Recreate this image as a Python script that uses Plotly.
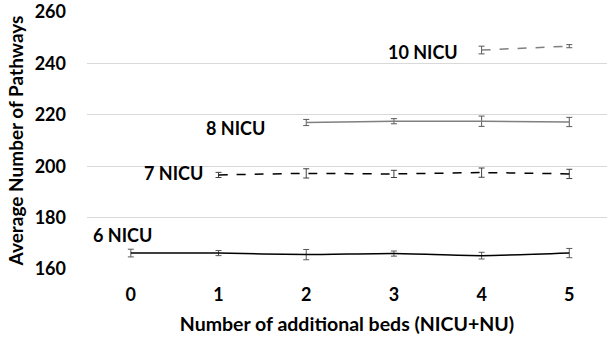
import plotly.graph_objects as go

x_all = [0, 1, 2, 3, 4, 5]
tick_labels = ["0", "1", "2", "3", "4", "5"]

nicu6_x = [0, 1, 2, 3, 4, 5]
nicu6_y = [166.2, 166.2, 165.6, 166.0, 165.2, 166.2]
nicu6_err = [1.5, 1.0, 2.0, 1.0, 1.3, 1.8]

nicu7_x = [1, 2, 3, 4, 5]
nicu7_y = [196.6, 197.2, 197.0, 197.5, 197.0]
nicu7_err = [1.0, 1.8, 1.4, 1.8, 1.8]

nicu8_x = [2, 3, 4, 5]
nicu8_y = [217.0, 217.5, 217.5, 217.2]
nicu8_err = [1.2, 1.0, 2.0, 1.8]

nicu10_x = [4, 5]
nicu10_y = [245.2, 246.7]
nicu10_err = [1.5, 0.6]

series_names = ["6 NICU", "7 NICU", "8 NICU", "10 NICU"]
label_x = [-0.1, 0.49, 1.19, 3.33]
label_y = [173.3, 197.3, 215.0, 244.4]

FONT = "Lato"

fig = go.Figure()

def add(xs, ys, errs, name, color, dash, errcolor):
    fig.add_trace(go.Scatter(
        x=xs, y=ys, name=name, mode="lines",
        line=dict(color=color, width=1.5, dash=dash, shape="spline", smoothing=0.6),
        error_y=dict(type="data", array=errs, visible=True, color=errcolor,
                     thickness=1, width=3),
        showlegend=False,
    ))

add(nicu6_x, nicu6_y, nicu6_err, series_names[0], "#000000", "solid", "#595959")
add(nicu7_x, nicu7_y, nicu7_err, series_names[1], "#000000", "dash", "#404040")
add(nicu8_x, nicu8_y, nicu8_err, series_names[2], "#808080", "solid", "#595959")
add(nicu10_x, nicu10_y, nicu10_err, series_names[3], "#808080", "dash", "#595959")

for name, lx, ly in zip(series_names, label_x, label_y):
    fig.add_annotation(x=lx, y=ly, text="<b>%s</b>" % name, showarrow=False,
                       font=dict(family=FONT, size=18, color="#000000"),
                       xanchor="center", yanchor="middle")

fig.update_layout(
    width=607, height=341,
    margin=dict(l=87, r=0, t=12, b=72),
    paper_bgcolor="white", plot_bgcolor="white",
    font=dict(family=FONT, color="#000000"),
    xaxis=dict(
        range=[-0.5, 5.43], tickvals=x_all, ticktext=["<b>%s</b>" % t for t in tick_labels],
        showgrid=False, zeroline=False, showline=False, ticks="",
        tickfont=dict(family=FONT, size=18), ticklabelstandoff=13,
        title=dict(text="<b>Number of additional beds (NICU+NU)</b>",
                   font=dict(family=FONT, size=19.5), standoff=13),
    ),
    yaxis=dict(
        range=[160, 260], tickvals=[160, 180, 200, 220, 240, 260],
        ticktext=["<b>%d</b>" % v for v in [160, 180, 200, 220, 240, 260]],
        showgrid=True, gridcolor="#d9d9d9", gridwidth=1,
        zeroline=False, showline=False, ticks="",
        tickfont=dict(family=FONT, size=18), ticklabelstandoff=20,
        title=dict(text="<b>Average Number of Pathways</b>",
                   font=dict(family=FONT, size=19), standoff=6),
    ),
)

fig.write_html("out.html", config={"displayModeBar": False},
               post_script="document.body.style.margin='0';")
